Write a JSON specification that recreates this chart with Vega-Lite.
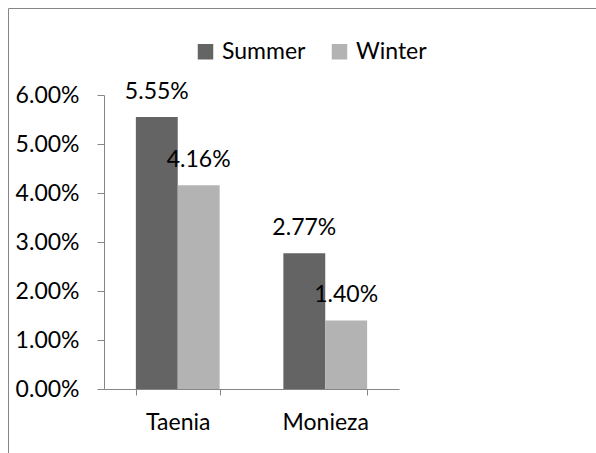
{
  "$schema": "https://vega.github.io/schema/vega-lite/v6.json",
  "width": 588,
  "height": 445,
  "autosize": {"type": "none"},
  "padding": {"left": 8, "top": 8, "right": 0, "bottom": 0},
  "background": "white",
  "config": {
    "view": {"stroke": "#868686", "strokeWidth": 1, "strokeDash": [588, 1033, 445, 0]},
    "font": "Lato",
    "axis": {"domainColor": "#868686", "tickColor": "#868686", "labelColor": "#000000", "labelFont": "Lato", "labelFontSize": 23, "grid": false, "title": null}
  },
  "data": {
    "values": [
      {"parasite": "Taenia", "season": "Summer", "rate": 0.0555},
      {"parasite": "Taenia", "season": "Winter", "rate": 0.0416},
      {"parasite": "Monieza", "season": "Summer", "rate": 0.0277},
      {"parasite": "Monieza", "season": "Winter", "rate": 0.0140}
    ]
  },
  "encoding": {
    "x": {
      "field": "parasite", "type": "nominal", "sort": ["Taenia", "Monieza"],
      "scale": {"range": [96, 391], "paddingInner": 0.432, "paddingOuter": 0.216},
      "axis": {"orient": "bottom", "offset": -64, "labelAngle": 0, "tickBand": "extent", "tickSize": 6, "labelPadding": 16, "domainWidth": 1}
    },
    "xOffset": {"field": "season", "type": "nominal", "sort": ["Summer", "Winter"], "scale": {"paddingInner": 0, "paddingOuter": 0}},
    "y": {
      "field": "rate", "type": "quantitative",
      "scale": {"domain": [0, 0.06], "range": [381, 87], "nice": false, "zero": true},
      "axis": {"orient": "left", "offset": -96, "values": [0, 0.01, 0.02, 0.03, 0.04, 0.05, 0.06], "format": ".2%", "tickSize": 7, "labelPadding": 18}
    }
  },
  "layer": [
    {
      "mark": {"type": "bar"},
      "encoding": {
        "color": {
          "field": "season", "type": "nominal",
          "scale": {"domain": ["Summer", "Winter"], "range": ["#646464", "#b3b3b3"]},
          "legend": {
            "title": null, "orient": "none", "direction": "horizontal", "legendX": 186, "legendY": 32,
            "symbolType": "square", "symbolSize": 240, "symbolStrokeWidth": 0, "symbolOpacity": 1,
            "labelFont": "Lato", "labelFontSize": 23, "labelColor": "#000000", "labelOffset": 5, "columnPadding": 22
          }
        }
      }
    },
    {
      "mark": {"type": "text", "baseline": "bottom", "dy": -13, "fontSize": 23, "font": "Lato", "color": "#000000"},
      "encoding": {
        "text": {"field": "rate", "type": "quantitative", "format": ".2%"}
      }
    }
  ]
}
